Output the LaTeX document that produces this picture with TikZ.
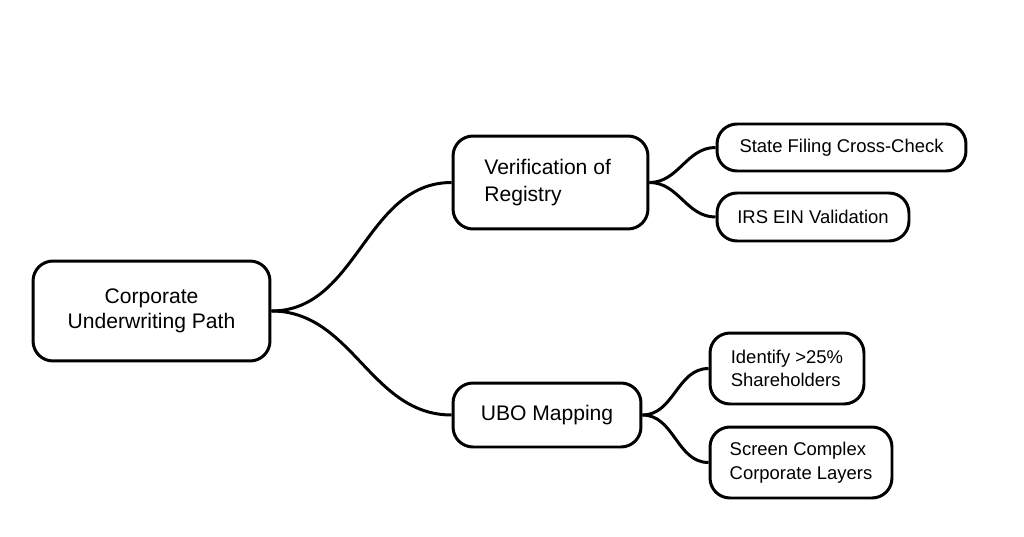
\documentclass[tikz,border=0pt]{standalone}
\usepackage{fontspec}
\setmainfont{Liberation Sans}
\begin{document}
\begin{tikzpicture}[x=0.02cm, y=-0.02cm,
    mybox/.style={draw, line width=1.7pt, rounded corners=0.4cm, align=left, inner sep=0pt},
    mylink/.style={line width=1.7pt, out=0, in=180}]
    \useasboundingbox (0,0) rectangle (1024,537);
    % main nodes
    \node[mybox, minimum width=4.74cm, minimum height=2cm, align=center, font=\fontsize{12}{14.5}\selectfont] (root) at (151.5,311) {Corporate\\Underwriting Path};
    \node[mybox, minimum width=3.9cm, minimum height=1.86cm, font=\fontsize{12}{15.5}\selectfont] (registry) at (550.5,182.5) {Verification of\\Registry\hspace*{1.1cm}};
    \node[mybox, minimum width=3.76cm, minimum height=1.28cm, font=\fontsize{12}{14.5}\selectfont] (ubo) at (547,415) {UBO Mapping};
    % leaves
    \node[mybox, minimum width=4.98cm, minimum height=0.94cm, font=\fontsize{10.5}{13}\selectfont] (state) at (841.5,147.5) {State Filing Cross-Check};
    \node[mybox, minimum width=3.84cm, minimum height=0.96cm, font=\fontsize{10.5}{13}\selectfont] (irs) at (813,217) {IRS EIN Validation};
    \node[mybox, minimum width=3.08cm, minimum height=1.42cm, font=\fontsize{10.5}{13.5}\selectfont] (share) at (787,368.5) {Identify >25\%\\Shareholders};
    \node[mybox, minimum width=3.64cm, minimum height=1.42cm, font=\fontsize{10.5}{13.5}\selectfont] (layers) at (801,462.5) {Screen Complex\\Corporate Layers};
    % links
    \draw[mylink] (root.east) to (registry.west);
    \draw[mylink] (root.east) to (ubo.west);
    \draw[mylink] (registry.east) to (state.west);
    \draw[mylink] (registry.east) to (irs.west);
    \draw[mylink] (ubo.east) to (share.west);
    \draw[mylink] (ubo.east) to (layers.west);
\end{tikzpicture}
\end{document}
